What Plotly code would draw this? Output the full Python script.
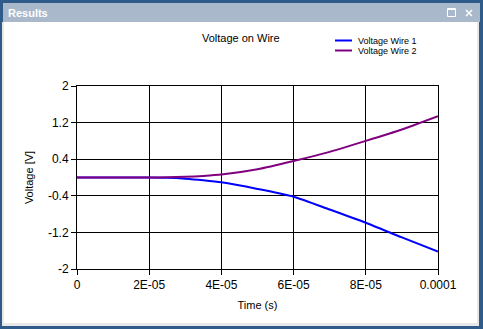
import plotly.graph_objects as go

# Simulation output: time samples (s) and wire voltages (V)
time_s = [0, 1e-5, 2e-5, 2.5e-5, 3e-5, 3.5e-5, 4e-5, 5e-5, 6e-5, 7e-5, 8e-5, 9e-5, 1e-4]
voltage_wire_1 = [0, 0, 0, -0.005, -0.025, -0.06, -0.105, -0.25, -0.42, -0.70, -0.99, -1.31, -1.62]
voltage_wire_2 = [0, 0, 0, 0.003, 0.015, 0.035, 0.065, 0.18, 0.36, 0.56, 0.80, 1.05, 1.34]
series_names = ["Voltage Wire 1", "Voltage Wire 2"]
series_colors = ["#0000FF", "#800080"]

x_tick_vals = [0, 2e-5, 4e-5, 6e-5, 8e-5, 1e-4]
x_tick_text = ["0", "2E-05", "4E-05", "6E-05", "8E-05", "0.0001"]
y_tick_vals = [-2, -1.2, -0.4, 0.4, 1.2, 2]
y_tick_text = ["-2", "-1.2", "-0.4", "0.4", "1.2", "2"]

W, H = 483, 329
FONT = "Liberation Sans, Arial, sans-serif"


def px(x):
    return x / W


def py(y):
    return 1 - y / H


fig = go.Figure()
for name, ys, color in zip(series_names, [voltage_wire_1, voltage_wire_2], series_colors):
    fig.add_trace(go.Scatter(
        x=time_s, y=ys, name=name, mode="lines", showlegend=False,
        line=dict(color=color, width=2, shape="spline", smoothing=0.6),
    ))

# Window frame: dark border, title bar, light inner edge, white client area
shapes = [
    dict(type="rect", xref="paper", yref="paper", x0=px(3), x1=px(480), y0=py(22), y1=py(3),
         fillcolor="#A9B8CB", line=dict(width=0), layer="below"),
    dict(type="rect", xref="paper", yref="paper", x0=px(2), x1=px(479), y0=py(326), y1=py(22),
         fillcolor="#E8E8E8", line=dict(width=0), layer="below"),
    dict(type="rect", xref="paper", yref="paper", x0=px(4), x1=px(477), y0=py(323), y1=py(22),
         fillcolor="#FFFFFF", line=dict(width=0), layer="below"),
    # maximize icon
    dict(type="rect", xref="paper", yref="paper", x0=px(447.5), x1=px(455.5), y0=py(16.5), y1=py(8.5),
         fillcolor="rgba(0,0,0,0)", line=dict(color="#FFFFFF", width=1)),
    dict(type="line", xref="paper", yref="paper", x0=px(447.5), x1=px(455.5), y0=py(9.5), y1=py(9.5),
         line=dict(color="#FFFFFF", width=1)),
    # close icon
    dict(type="line", xref="paper", yref="paper", x0=px(466), x1=px(472), y0=py(10), y1=py(16),
         line=dict(color="#FFFFFF", width=1.5)),
    dict(type="line", xref="paper", yref="paper", x0=px(466), x1=px(472), y0=py(16), y1=py(10),
         line=dict(color="#FFFFFF", width=1.5)),
]

annotations = [
    dict(text="<b>Results</b>", xref="paper", yref="paper", x=px(6), y=py(13),
         xanchor="left", yanchor="middle", showarrow=False,
         font=dict(family=FONT, size=11, color="#FFFFFF")),
    dict(text="Voltage on Wire", xref="paper", yref="paper", x=px(241), y=py(38),
         xanchor="center", yanchor="middle", showarrow=False,
         font=dict(family=FONT, size=11, color="#000000")),
]

# Compact legend: short line sample and label per series
for i, (name, color) in enumerate(zip(series_names, series_colors)):
    ly = 40.5 + 10 * i
    shapes.append(dict(type="line", xref="paper", yref="paper", x0=px(335), x1=px(352),
                       y0=py(ly), y1=py(ly), line=dict(color=color, width=2)))
    annotations.append(dict(text=name, xref="paper", yref="paper", x=px(356), y=py(ly),
                            xanchor="left", yanchor="middle", showarrow=False,
                            font=dict(family=FONT, size=9, color="#000000")))

axis_common = dict(
    showgrid=True, gridcolor="#000000", gridwidth=1,
    showline=True, linecolor="#000000", linewidth=1, mirror=True,
    zeroline=False, ticks="outside", ticklen=5, tickcolor="#000000",
    automargin=False,
    tickfont=dict(family=FONT, size=12, color="#000000"),
)

fig.update_layout(
    width=W, height=H, autosize=False,
    margin=dict(l=0, r=0, t=0, b=0, pad=0),
    paper_bgcolor="#2E5B8A", plot_bgcolor="#FFFFFF",
    font=dict(family=FONT, color="#000000"),
    shapes=shapes, annotations=annotations,
    xaxis=dict(axis_common, domain=[px(77), px(438)], range=[0, 1e-4],
               tickvals=x_tick_vals, ticktext=x_tick_text,
               title=dict(text="Time (s)", font=dict(family=FONT, size=11), standoff=9)),
    yaxis=dict(axis_common, domain=[py(269), py(86)], range=[-2, 2],
               tickvals=y_tick_vals, ticktext=y_tick_text,
               title=dict(text="Voltage [V]", font=dict(family=FONT, size=11), standoff=12)),
)

fig.write_html("out.html")
